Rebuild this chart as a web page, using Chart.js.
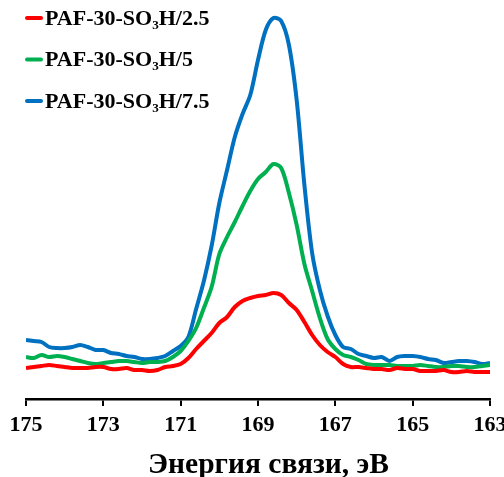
<!DOCTYPE html>
<html>
<head>
<meta charset="utf-8">
<script src="https://cdn.jsdelivr.net/npm/chart.js@4"></script>
<style>
  html, body { margin: 0; padding: 0; background: #fff; }
  #wrap { width: 504px; height: 477px; }
</style>
</head>
<body>
<div id="wrap"><canvas id="chart"></canvas></div>
<script>
// binding energy, eV
const energy = [175.0, 174.8, 174.6, 174.4, 174.2, 174.0, 173.8, 173.6, 173.4, 173.2,
  173.0, 172.8, 172.6, 172.4, 172.2, 172.0, 171.8, 171.6, 171.4, 171.2,
  171.0, 170.8, 170.6, 170.4, 170.2, 170.0, 169.8, 169.6, 169.4, 169.2,
  169.0, 168.8, 168.6, 168.4, 168.2, 168.0, 167.8, 167.6, 167.4, 167.2,
  167.0, 166.8, 166.6, 166.4, 166.2, 166.0, 165.8, 165.6, 165.4, 165.2,
  165.0, 164.8, 164.6, 164.4, 164.2, 164.0, 163.8, 163.6, 163.4, 163.2, 163.0];

// intensity, a.u.
const paf25 = [31, 32, 33, 34, 33, 32, 31, 31, 31, 32, 32, 30, 30, 31, 29, 29, 28, 29, 32, 33,
  35, 41, 50, 58, 66, 76, 82, 92, 98, 101, 103, 104, 106, 104, 96, 89, 77, 64, 54, 47,
  42, 35, 32, 32, 31, 30, 30, 29, 31, 30, 30, 28, 28, 28, 29, 27, 27, 28, 27, 27, 27];
const paf5 = [42, 41, 44, 42, 43, 42, 40, 38, 36, 35, 36, 37, 38, 38, 37, 36, 37, 37, 38, 42,
  48, 58, 71, 91, 112, 145, 162, 177, 193, 208, 220, 227, 235, 231, 206, 174, 135, 108, 81, 60,
  50, 44, 42, 39, 35, 34, 34, 34, 33, 33, 33, 34, 33, 32, 32, 33, 33, 32, 32, 33, 34];
const paf75 = [59, 58, 57, 52, 51, 51, 52, 54, 52, 49, 49, 46, 45, 43, 42, 40, 40, 41, 43, 48,
  53, 62, 90, 118, 153, 196, 229, 262, 285, 304, 339, 369, 381, 378, 354, 299, 214, 146, 109, 83,
  64, 52, 50, 45, 43, 41, 42, 38, 42, 43, 43, 42, 40, 39, 36, 37, 38, 38, 37, 35, 36];

const labels = ['PAF-30-SO₃H/2.5', 'PAF-30-SO₃H/5', 'PAF-30-SO₃H/7.5'];
const colors = ['#FF0000', '#00B050', '#0070C0'];
const xTicks = [175, 173, 171, 169, 167, 165, 163];
const xTitle = 'Энергия связи, эВ';

const toPoints = (vals) => vals.map((v, i) => ({ x: energy[i], y: v }));

const serif = '"Liberation Serif", "Times New Roman", serif';

// legend stacked in the top-left corner + axis title (sits a bit right of centre)
const extras = {
  id: 'extras',
  afterDraw(c) {
    const ctx = c.ctx;
    ctx.save();
    ctx.font = 'bold 22px ' + serif;
    ctx.textBaseline = 'middle';
    ctx.lineCap = 'round';
    c.data.datasets.forEach((ds, i) => {
      const y = 18 + i * 41.5;
      ctx.strokeStyle = ds.borderColor;
      ctx.lineWidth = 4;
      ctx.beginPath();
      ctx.moveTo(27, y);
      ctx.lineTo(41, y);
      ctx.stroke();
      ctx.fillStyle = '#000';
      ctx.fillText(ds.label, 45, y + 1);
    });

    ctx.font = 'bold 29.5px ' + serif;
    ctx.textAlign = 'center';
    ctx.textBaseline = 'alphabetic';
    ctx.fillText(xTitle, 268.5, 473);
    ctx.restore();
  }
};

new Chart(document.getElementById('chart'), {
  type: 'line',
  data: {
    datasets: [paf25, paf5, paf75].map((vals, i) => ({
      label: labels[i],
      data: toPoints(vals),
      borderColor: colors[i],
      borderWidth: 4,
      pointRadius: 0,
      tension: 0.3,
      fill: false
    }))
  },
  options: {
    responsive: true,
    maintainAspectRatio: false,
    animation: false,
    devicePixelRatio: 1,
    layout: { padding: { left: 26, right: 14, top: 0, bottom: 0 } },
    plugins: {
      legend: { display: false },
      tooltip: { enabled: false }
    },
    scales: {
      x: {
        type: 'linear',
        reverse: true,
        min: 163,
        max: 175,
        afterFit(s) { s.height = 78; s.paddingLeft = 0; s.paddingRight = 0; },
        afterBuildTicks(s) { s.ticks = xTicks.map(v => ({ value: v })); },
        border: { display: true, color: '#000', width: 2.5 },
        grid: { drawOnChartArea: false, drawTicks: true, tickLength: 7, color: '#000', lineWidth: 2 },
        ticks: {
          color: '#000',
          padding: 6,
          maxRotation: 0,
          autoSkip: false,
          font: { family: serif, size: 22, weight: 'bold' }
        },
        title: { display: false }
      },
      y: { display: false, min: 0, max: 399 }
    }
  },
  plugins: [extras]
});
</script>
</body>
</html>
